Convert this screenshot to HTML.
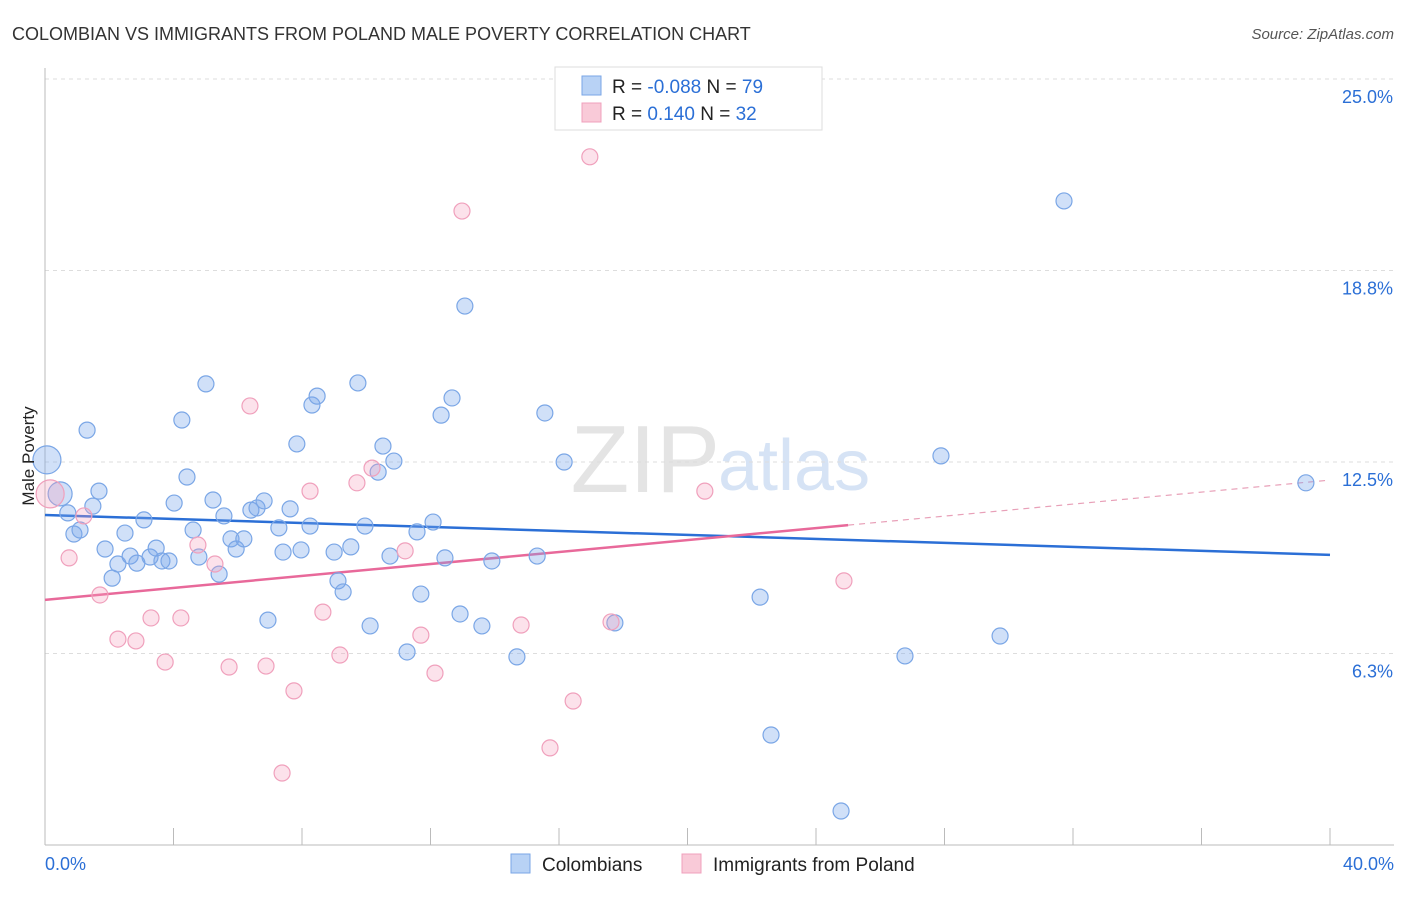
<!DOCTYPE html>
<html><head><meta charset="utf-8"><style>
body{margin:0;background:#fff;font-family:"Liberation Sans",sans-serif;}
svg text{font-family:"Liberation Sans",sans-serif;}
</style></head><body>
<svg id="chart" width="1406" height="892">
<text x="12" y="40" font-size="18" fill="#333">COLOMBIAN VS IMMIGRANTS FROM POLAND MALE POVERTY CORRELATION CHART</text>
<text x="1394" y="39" font-size="15" fill="#555" font-style="italic" text-anchor="end">Source: ZipAtlas.com</text>
<text x="720" y="492" font-size="96" fill="#e4e4e4" text-anchor="end" font-family="Liberation Serif">ZIP</text>
<text x="718" y="490" font-size="72" fill="#d6e3f5">atlas</text>
<g id="grid"></g><g id="axes"></g><g id="lines"></g><g id="points"></g>
<text transform="translate(34,456) rotate(-90)" font-size="17" fill="#222" text-anchor="middle">Male Poverty</text>
<g>
<rect x="555" y="67" width="267" height="63" fill="#fff" stroke="#ddd"/>
<rect x="582" y="76" width="19" height="19" fill="#b8d2f5" stroke="#7aa6e6"/>
<rect x="582" y="103" width="19" height="19" fill="#f9cad8" stroke="#f0a0bc"/>
<text x="612" y="93" font-size="19" fill="#222">R = <tspan fill="#2b6fd6">-0.088</tspan>   N = <tspan fill="#2b6fd6">79</tspan></text>
<text x="612" y="120" font-size="19" fill="#222">R =   <tspan fill="#2b6fd6">0.140</tspan>   N = <tspan fill="#2b6fd6">32</tspan></text>
</g>
<g>
<rect x="511" y="854" width="19" height="19" fill="#b8d2f5" stroke="#7aa6e6"/>
<text x="542" y="871" font-size="19" fill="#222">Colombians</text>
<rect x="682" y="854" width="19" height="19" fill="#f9cad8" stroke="#f0a0bc"/>
<text x="713" y="871" font-size="19" fill="#222">Immigrants from Poland</text>
</g>
</svg>
<script>
const yTicks=[25.0,18.8,12.5,6.3];
const yTickVals=[25,18.75,12.5,6.25];
const xLabels=["0.0%","40.0%"];
const blueX=[0.06,0.47,0.71,0.90,1.09,1.31,1.49,1.68,1.87,2.09,2.27,2.49,2.65,2.86,3.08,3.27,3.46,3.64,3.86,4.02,4.26,4.42,4.61,4.79,5.01,5.23,5.42,5.57,5.79,5.95,6.19,6.41,6.60,6.82,6.94,7.28,7.41,7.63,7.84,7.97,8.25,8.31,8.47,9.00,9.12,9.28,9.52,9.74,9.96,10.12,10.37,10.52,10.74,10.86,11.27,11.58,11.70,12.08,12.33,12.45,12.67,12.92,13.07,13.60,13.91,14.69,15.32,15.56,16.16,17.74,22.26,22.60,24.78,26.77,27.89,29.73,31.72,39.25];
const blueY=[12.57,11.46,10.84,10.15,10.28,13.54,11.06,11.55,9.66,8.71,9.17,10.18,9.43,9.20,10.61,9.40,9.69,9.27,9.27,11.16,13.87,12.01,10.28,9.40,15.05,11.26,8.84,10.74,9.99,9.66,9.99,10.93,11.00,11.23,7.34,10.35,9.56,10.97,13.09,9.63,10.41,14.36,14.65,9.56,8.62,8.26,9.73,15.08,10.41,7.15,12.17,13.02,9.43,12.53,6.30,10.22,8.19,10.54,14.03,9.37,14.59,7.54,17.59,7.15,9.27,6.14,9.43,14.10,12.50,7.25,8.09,3.59,1.11,6.17,12.70,6.82,21.02,11.82];
const pinkX=[0.16,0.75,1.21,1.71,2.27,2.83,3.30,3.74,4.23,4.76,5.29,5.73,6.38,6.88,7.38,7.75,8.25,8.65,9.18,9.71,10.18,11.21,11.70,12.14,12.98,14.82,15.72,16.44,16.96,17.62,20.54,24.87];
const pinkY=[11.46,9.37,10.74,8.16,6.72,6.66,7.41,5.97,7.41,9.79,9.17,5.81,14.33,5.84,2.35,5.03,11.55,7.60,6.20,11.82,12.30,9.60,6.85,5.61,20.69,7.18,3.17,4.70,22.46,7.28,11.55,8.62];
const blueLine=[10.77,9.47];
const pinkLine=[8.0,10.44,11.91];
const sx=v=>45+v*1285/40, sy=v=>845-v*766/25;
const NS="http://www.w3.org/2000/svg";
function mk(p,t,a){const e=document.createElementNS(NS,t);for(const k in a)e.setAttribute(k,a[k]);p.appendChild(e);return e;}
const grid=document.getElementById('grid'),axes=document.getElementById('axes'),lines=document.getElementById('lines'),pts=document.getElementById('points');
yTickVals.forEach((v,i)=>{
 const l=mk(grid,'line',{x1:45,x2:1394,y1:sy(v),y2:sy(v),stroke:'#ddd','stroke-dasharray':'4,4'});
 
 
 const t=mk(axes,'text',{x:1393,y:sy(v)+24,'font-size':18,fill:'#2b6fd6','text-anchor':'end'});
 t.textContent=yTicks[i].toFixed(1)+'%';
 
 
});
const ax=mk(axes,'line',{x1:45,x2:1394,y1:845,y2:845,stroke:'#bbb'});


const ay=mk(axes,'line',{x1:45,x2:45,y1:68,y2:845,stroke:'#bbb'});


for(let i=0;i<=10;i++){const tk=mk(axes,'line',{x1:sx(i*4),x2:sx(i*4),y1:828,y2:845,stroke:'#bbb'});
 
 }
[[0,'start',45],[1,'end',1394]].forEach(([i,a,x])=>{const t=mk(axes,'text',{x:x,y:870,'font-size':18,fill:'#2b6fd6','text-anchor':a});t.textContent=xLabels[i];
 
 });
const bl=mk(lines,'line',{x1:sx(0),y1:sy(blueLine[0]),x2:sx(40),y2:sy(blueLine[1]),stroke:'#2b6fd6','stroke-width':2.5});


const pl=mk(lines,'line',{x1:sx(0),y1:sy(pinkLine[0]),x2:sx(25),y2:sy(pinkLine[1]),stroke:'#e8699a','stroke-width':2.5});


const pd=mk(lines,'line',{x1:sx(25),y1:sy(pinkLine[1]),x2:sx(40),y2:sy(pinkLine[2]),stroke:'#e8a0b8','stroke-width':1.2,'stroke-dasharray':'6,5'});


blueX.forEach((x,i)=>{const c=mk(pts,'circle',{cx:sx(x),cy:sy(blueY[i]),r:i==0?14:(i==1?12:8),fill:'rgba(120,165,235,0.35)',stroke:'#7aa6e6','stroke-width':1.2});
 
 });
pinkX.forEach((x,i)=>{const c=mk(pts,'circle',{cx:sx(x),cy:sy(pinkY[i]),r:i==0?14:8,fill:'rgba(245,160,190,0.3)',stroke:'#f0a0bc','stroke-width':1.2});
 
 });
</script>
</body></html>
